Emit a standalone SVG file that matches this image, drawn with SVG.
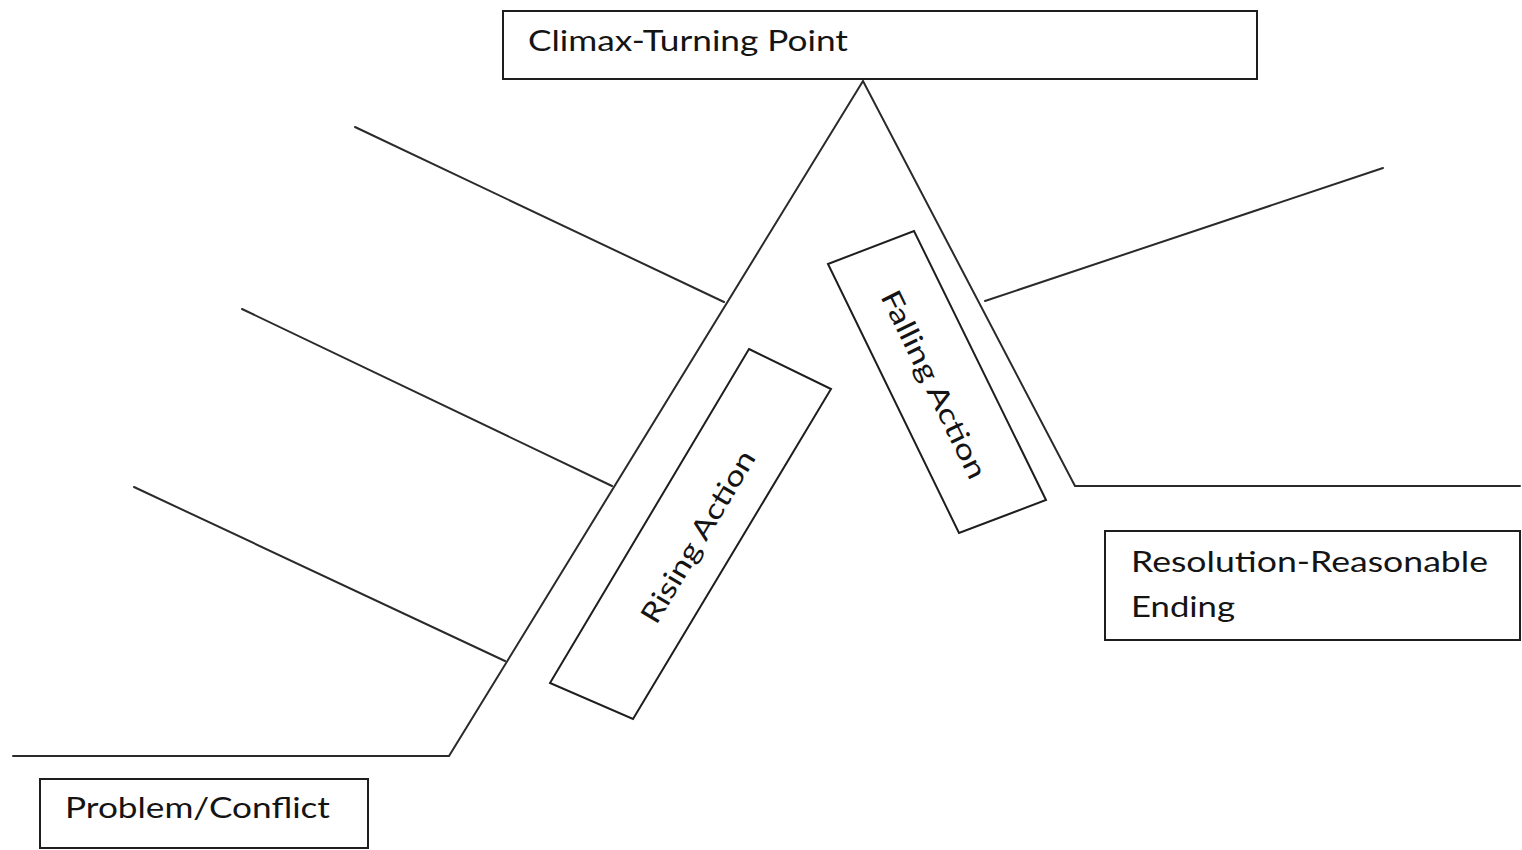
<svg xmlns="http://www.w3.org/2000/svg" width="1522" height="850" viewBox="0 0 1522 850">
<style>
.box{fill:#fff;stroke:#1e1e1e;stroke-width:2}
.ln{fill:none;stroke:#2a2a2a;stroke-width:2;stroke-linecap:round;stroke-linejoin:miter}
.t{font-family:Lato,"Open Sans","Liberation Sans",sans-serif;font-size:28px;fill:#141414}
</style>
<rect width="1522" height="850" fill="#fff"/>
<g id="connectors">
<polyline class="ln" points="13,756 449,756 863,81 1075,486 1520,486"/>
<line class="ln" x1="355" y1="127" x2="724" y2="302"/>
<line class="ln" x1="242" y1="309" x2="612" y2="486"/>
<line class="ln" x1="134" y1="487" x2="505" y2="661"/>
<line class="ln" x1="985" y1="301" x2="1383" y2="168"/>
</g>
<g id="climax">
<rect class="box" x="503" y="11" width="754" height="68"/>
<text class="t" x="528" y="51" textLength="320" lengthAdjust="spacingAndGlyphs">Climax-Turning Point</text>
</g>
<g id="rising">
<polygon class="box" points="749,349 831,389 633,719 550,683"/>
<text class="t" transform="translate(697,536) rotate(-59.2)" x="0" y="0" dominant-baseline="central" text-anchor="middle" textLength="196" lengthAdjust="spacingAndGlyphs">Rising Action</text>
</g>
<g id="falling">
<polygon class="box" points="828,264 914,231 1046,500 959,533"/>
<text class="t" transform="translate(935,384) rotate(64)" x="0" y="0" dominant-baseline="central" text-anchor="middle" textLength="206" lengthAdjust="spacingAndGlyphs">Falling Action</text>
</g>
<g id="problem">
<rect class="box" x="40" y="779" width="328" height="69"/>
<text class="t" x="65" y="818" textLength="265" lengthAdjust="spacingAndGlyphs">Problem/Conflict</text>
</g>
<g id="resolution">
<rect class="box" x="1105" y="531" width="415" height="109"/>
<text class="t" x="1131" y="572" textLength="357" lengthAdjust="spacingAndGlyphs">Resolution-Reasonable</text>
<text class="t" x="1131" y="617" textLength="104" lengthAdjust="spacingAndGlyphs">Ending</text>
</g>
</svg>
